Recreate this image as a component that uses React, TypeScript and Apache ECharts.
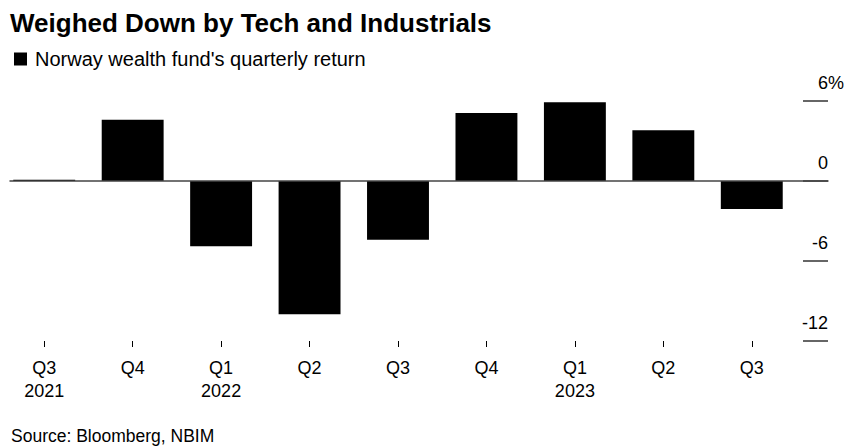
import React, { useEffect, useRef } from "react";
import * as echarts from "echarts";

const TITLE = "Weighed Down by Tech and Industrials";
const SERIES_NAME = "Norway wealth fund's quarterly return";
const SOURCE = "Source: Bloomberg, NBIM";

const categories = ["Q3\n2021", "Q4", "Q1\n2022", "Q2", "Q3", "Q4", "Q1\n2023", "Q2", "Q3"];
const returns = [0.1, 4.6, -4.9, -10.0, -4.4, 5.1, 5.9, 3.8, -2.1];
const yTicks = { min: -12, max: 6, interval: 6 };

const FONT = "'Liberation Sans', Arial, Helvetica, sans-serif";

export default function App() {
  const ref = useRef<HTMLDivElement>(null);

  useEffect(() => {
    if (!ref.current) return;
    const chart = echarts.init(ref.current, null, { renderer: "svg" });
    chart.setOption({
      animation: false,
      backgroundColor: "#ffffff",
      textStyle: { fontFamily: FONT },
      title: [
        {
          text: TITLE,
          left: 10,
          top: 10,
          padding: 0,
          textStyle: { fontFamily: FONT, fontSize: 26, fontWeight: "bold", color: "#000" },
        },
        {
          text: SOURCE,
          left: 11,
          top: 427,
          padding: 0,
          textStyle: { fontFamily: FONT, fontSize: 17.5, fontWeight: "normal", color: "#000" },
        },
      ],
      legend: {
        data: [SERIES_NAME],
        left: 14,
        top: 49,
        padding: 0,
        icon: "rect",
        itemWidth: 13,
        itemHeight: 13,
        selectedMode: false,
        textStyle: { fontFamily: FONT, fontSize: 20, color: "#000", padding: [0, 0, 0, 3] },
      },
      grid: [
        { left: -2, width: 798, top: 101, height: 240 },
        { left: 10, width: 818, top: 101, height: 240 },
      ],
      xAxis: [
        {
          type: "category",
          gridIndex: 0,
          data: categories,
          position: "bottom",
          axisLine: { show: false, onZero: false },
          axisTick: { show: true, alignWithLabel: true, length: 6, lineStyle: { color: "#000", width: 1 } },
          axisLabel: {
            interval: 0,
            margin: 15,
            fontFamily: FONT,
            fontSize: 18,
            lineHeight: 23,
            color: "#000",
          },
          splitLine: { show: false },
        },
        {
          type: "value",
          gridIndex: 1,
          min: 0,
          max: 1,
          axisLine: { show: true, onZero: true, lineStyle: { color: "#444", width: 1.5 } },
          axisTick: { show: false },
          axisLabel: { show: false },
          splitLine: { show: false },
          z: 10,
        },
      ],
      yAxis: [
        {
          type: "value",
          gridIndex: 0,
          min: yTicks.min,
          max: yTicks.max,
          interval: yTicks.interval,
          show: false,
        },
        {
          type: "value",
          gridIndex: 1,
          position: "right",
          min: yTicks.min,
          max: yTicks.max,
          interval: yTicks.interval,
          axisLine: { show: false, onZero: false },
          axisTick: { show: true, inside: true, length: 25, lineStyle: { color: "#666", width: 2 } },
          splitLine: { show: false },
          axisLabel: {
            inside: true,
            margin: -16,
            align: "right",
            verticalAlign: "bottom",
            lineHeight: 18,
            padding: [0, 0, 9, 0],
            fontFamily: FONT,
            fontSize: 18,
            color: "#000",
            formatter: (v: number) => (v === yTicks.max ? `${v}%` : `${v}{s| }`),
            rich: { s: { width: 16, fontSize: 18, fontFamily: FONT } },
          },
        },
      ],
      series: [
        {
          name: SERIES_NAME,
          type: "bar",
          xAxisIndex: 0,
          yAxisIndex: 0,
          data: returns,
          barCategoryGap: "30%",
          itemStyle: { color: "#000" },
          emphasis: { disabled: true },
        },
      ],
    });
    return () => chart.dispose();
  }, []);

  return (
    <div
      ref={ref}
      style={{ position: "absolute", left: 0, top: 0, width: 863, height: 446 }}
    />
  );
}
